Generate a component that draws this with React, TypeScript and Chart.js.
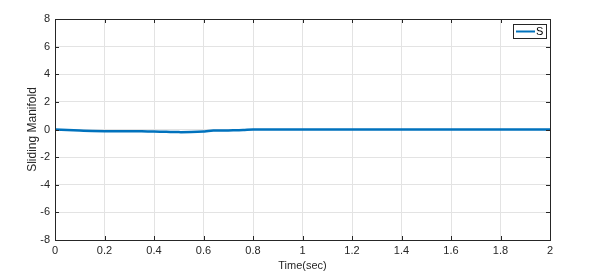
import React, { useEffect, useRef } from "react";
import { Chart, registerables } from "chart.js";

Chart.register(...registerables);

const timeSec = [0, 0.05, 0.1, 0.15, 0.2, 0.25, 0.3, 0.35, 0.4, 0.45, 0.5, 0.55, 0.6, 0.62, 0.64, 0.68, 0.72, 0.76, 0.8, 1.0, 1.2, 1.4, 1.6, 1.8, 2.0];
const sValues = [0, -0.04, -0.08, -0.11, -0.12, -0.12, -0.12, -0.13, -0.15, -0.17, -0.19, -0.18, -0.14, -0.1, -0.08, -0.07, -0.06, -0.04, 0, 0, 0, 0, 0, 0, 0];
const xTicks = [0, 0.2, 0.4, 0.6, 0.8, 1, 1.2, 1.4, 1.6, 1.8, 2];
const yTicks = [-8, -6, -4, -2, 0, 2, 4, 6, 8];
const seriesLabel = "S";

const FONT = "'Liberation Sans', Arial, sans-serif";

const framePlugin = {
  id: "frame",
  afterDraw(chart: any) {
    const { ctx, chartArea: a, scales } = chart;
    ctx.save();
    ctx.strokeStyle = "#262626";
    ctx.lineWidth = 1;
    ctx.strokeRect(Math.round(a.left) + 0.5, Math.round(a.top) + 0.5, Math.round(a.right - a.left), Math.round(a.bottom - a.top));
    ctx.beginPath();
    const tl = 4;
    for (const v of xTicks) {
      const x = Math.round(scales.x.getPixelForValue(v)) + 0.5;
      ctx.moveTo(x, a.bottom);
      ctx.lineTo(x, a.bottom - tl);
      ctx.moveTo(x, a.top);
      ctx.lineTo(x, a.top + tl);
    }
    for (const v of yTicks) {
      const y = Math.round(scales.y.getPixelForValue(v)) + 0.5;
      ctx.moveTo(a.left, y);
      ctx.lineTo(a.left + tl, y);
      ctx.moveTo(a.right, y);
      ctx.lineTo(a.right - tl, y);
    }
    ctx.stroke();

    // legend
    const bx = 513.5, by = 24.5, bw = 33, bh = 14;
    ctx.fillStyle = "#ffffff";
    ctx.fillRect(bx, by, bw, bh);
    ctx.strokeStyle = "#262626";
    ctx.strokeRect(bx, by, bw, bh);
    ctx.strokeStyle = "#0072BD";
    ctx.lineWidth = 2;
    ctx.beginPath();
    ctx.moveTo(516, 31.5);
    ctx.lineTo(535, 31.5);
    ctx.stroke();
    ctx.fillStyle = "#000000";
    ctx.font = `11px ${FONT}`;
    ctx.textBaseline = "middle";
    ctx.textAlign = "left";
    ctx.fillText(seriesLabel, 536, 32);
    ctx.restore();
  },
};

export default function App() {
  const ref = useRef<HTMLCanvasElement>(null);
  useEffect(() => {
    document.body.style.margin = "0";
    const chart = new Chart(ref.current!, {
      type: "line",
      data: {
        datasets: [
          {
            label: seriesLabel,
            data: timeSec.map((t, i) => ({ x: t, y: sValues[i] })),
            borderColor: "#0072BD",
            borderWidth: 2.5,
            pointRadius: 0,
            tension: 0.3,
            fill: false,
          },
        ],
      },
      options: {
        animation: false,
        responsive: false,
        maintainAspectRatio: false,
        layout: { padding: { top: 19, right: 50, left: 0, bottom: 0 } },
        plugins: { legend: { display: false }, tooltip: { enabled: false } },
        scales: {
          x: {
            type: "linear",
            min: 0,
            max: 2,
            afterBuildTicks: (s: any) => {
              s.ticks = xTicks.map((v) => ({ value: v }));
            },
            afterFit: (s: any) => {
              s.height = 34;
            },
            ticks: {
              padding: 4,
              color: "#262626",
              font: { family: FONT, size: 11 },
              callback: (v: any) => String(Math.round(Number(v) * 10) / 10),
            },
            grid: { color: "#e3e3e3", drawTicks: false, lineWidth: 1 },
            border: { display: false },
            title: {
              display: true,
              text: "Time(sec)",
              color: "#262626",
              font: { family: FONT, size: 11 },
              padding: { top: 0, bottom: 1 },
            },
          },
          y: {
            type: "linear",
            min: -8,
            max: 8,
            afterBuildTicks: (s: any) => {
              s.ticks = yTicks.map((v) => ({ value: v }));
            },
            afterFit: (s: any) => {
              s.width = 55;
            },
            ticks: {
              padding: 5,
              color: "#262626",
              font: { family: FONT, size: 11 },
            },
            grid: { color: "#e3e3e3", drawTicks: false, lineWidth: 1 },
            border: { display: false },
            title: {
              display: true,
              text: "Sliding Manifold",
              color: "#262626",
              font: { family: FONT, size: 12 },
              padding: { top: 25, bottom: 0 },
            },
          },
        },
      },
      plugins: [framePlugin],
    });
    return () => chart.destroy();
  }, []);
  return (
    <div style={{ position: "fixed", left: 0, top: 0, width: 600, height: 274, background: "#fff" }}>
      <canvas ref={ref} width={600} height={274} />
    </div>
  );
}
